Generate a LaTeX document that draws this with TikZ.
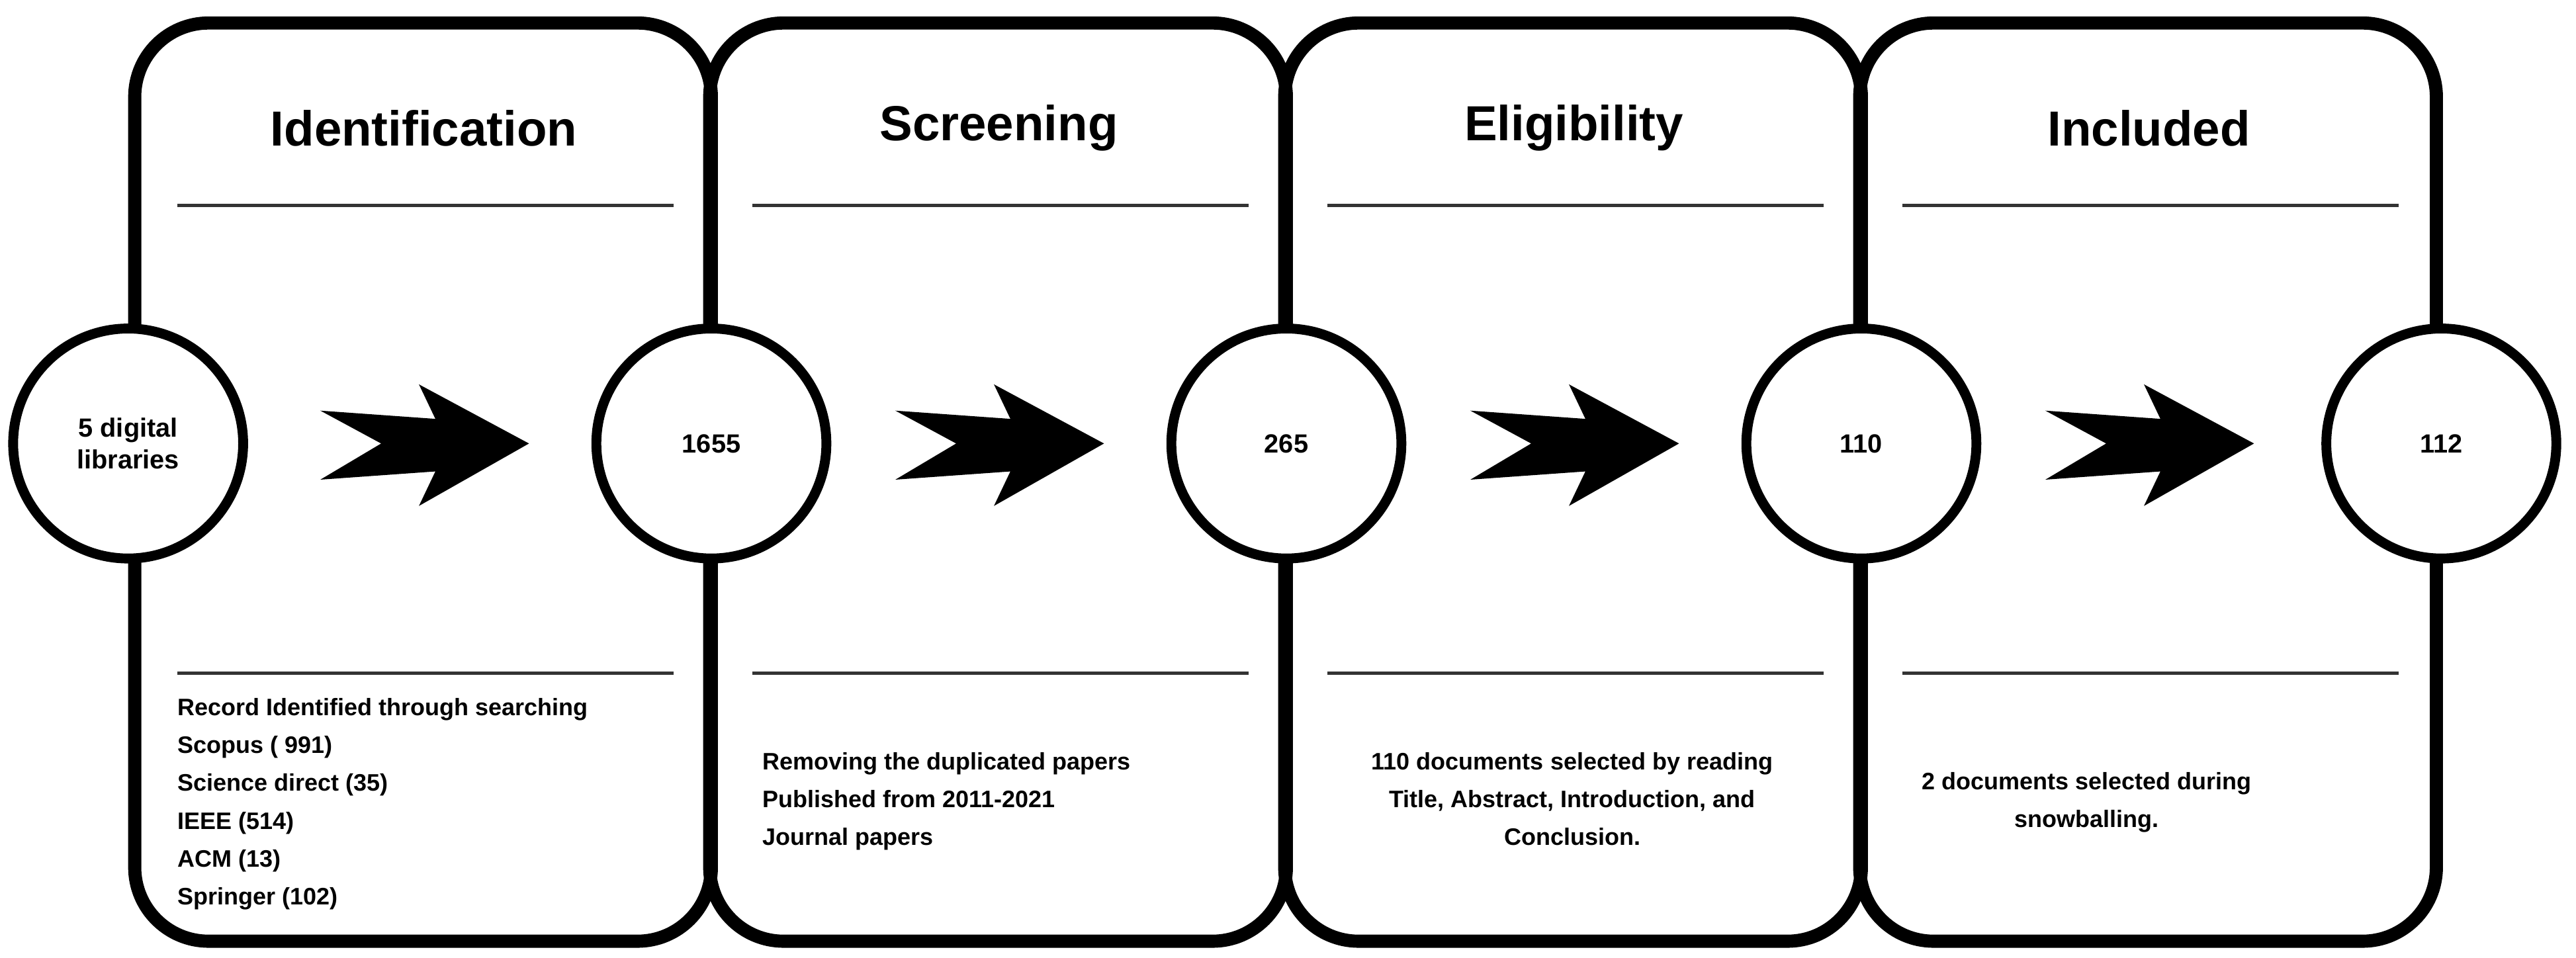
\documentclass[tikz,border=0pt]{standalone}
\usepackage{fontspec}
\setmainfont{Liberation Sans}
\begin{document}
\begin{tikzpicture}[x=1pt,y=-1pt,
 box/.style={draw,line width=8pt,rounded corners=45pt},
 circ/.style={draw,line width=6pt,fill=white,circle,minimum size=140pt,inner sep=0pt,font=\fontsize{16}{19}\selectfont\bfseries,align=center},
 sep/.style={draw=black!80,line width=2pt},
 title/.style={font=\fontsize{30}{36}\selectfont\bfseries},
 body/.style={font=\fontsize{14.5}{23}\selectfont\bfseries,align=left,anchor=north west,inner sep=0pt},
 arr/.style={fill=black}]
\useasboundingbox (0,0) rectangle (1568,583);
\foreach \i/\t in {0/Identification,1/Screening,2/Eligibility,3/Included}{
 \draw[box] (82+350*\i,14) rectangle (433+350*\i,573);
 \node[title] (t\i) at (258+350*\i,78) {\t};
 \draw[sep] (108+350*\i,125) -- (410+350*\i,125);
 \draw[sep] (108+350*\i,410) -- (410+350*\i,410);
 \fill[arr] (195+350*\i,250) -- (265+350*\i,255) -- (255+350*\i,234) -- (322+350*\i,270) -- (255+350*\i,308) -- (265+350*\i,287) -- (195+350*\i,292) -- (232+350*\i,270) -- cycle;
}
\node[circ] (c0) at (78,270) {5 digital\\libraries};
\node[circ] (c1) at (433,270) {1655};
\node[circ] (c2) at (783,270) {265};
\node[circ] (c3) at (1133,270) {110};
\node[circ] (c4) at (1486,270) {112};
\node[body] (b0) at (108,425) {Record Identified through searching\\Scopus ( 991)\\Science direct (35)\\IEEE (514)\\ACM (13)\\Springer (102)};
\node[body] (b1) at (464,458) {Removing the duplicated papers\\Published from 2011-2021\\Journal papers};
\node[body,align=center,anchor=north] (b2) at (957,458) {110 documents selected by reading\\Title, Abstract, Introduction, and\\Conclusion.};
\node[body,align=center,anchor=north] (b3) at (1270,470) {2 documents selected during\\snowballing.};
\end{tikzpicture}
\end{document}
